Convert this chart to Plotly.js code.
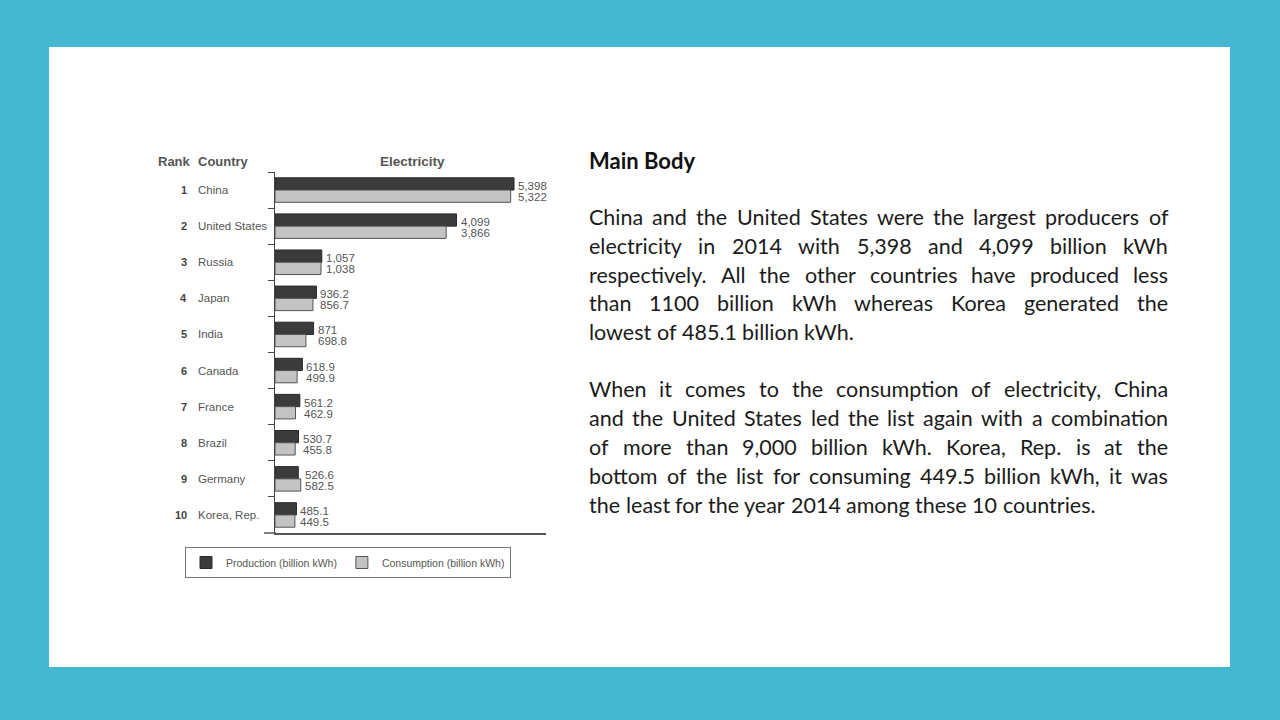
<!DOCTYPE html>
<html>
<head>
<meta charset="utf-8">
<script src="https://cdn.plot.ly/plotly-3.0.1.min.js"></script>
<style>
  html, body { margin: 0; padding: 0; background: #45b8d1; }
  #chart { width: 1280px; height: 720px; }
</style>
</head>
<body>
<div id="chart"></div>
<script>
// ---- data ----
var ranks = [1, 2, 3, 4, 5, 6, 7, 8, 9, 10];
var countries = ['China', 'United States', 'Russia', 'Japan', 'India',
                 'Canada', 'France', 'Brazil', 'Germany', 'Korea, Rep.'];
var production = [5398, 4099, 1057, 936.2, 871, 618.9, 561.2, 530.7, 526.6, 485.1];
var consumption = [5322, 3866, 1038, 856.7, 698.8, 499.9, 462.9, 455.8, 582.5, 449.5];
var prodLabels = ['5,398', '4,099', '1,057', '936.2', '871', '618.9', '561.2', '530.7', '526.6', '485.1'];
var consLabels = ['5,322', '3,866', '1,038', '856.7', '698.8', '499.9', '462.9', '455.8', '582.5', '449.5'];

var heading = 'Main Body';
var para1 = [
  'China and the United States were the largest producers of',
  'electricity in 2014 with 5,398 and 4,099 billion kWh',
  'respectively. All the other countries have produced less',
  'than 1100 billion kWh whereas Korea generated the',
  'lowest of 485.1 billion kWh.'
];
var para2 = [
  'When it comes to the consumption of electricity, China',
  'and the United States led the list again with a combination',
  'of more than 9,000 billion kWh. Korea, Rep. is at the',
  'bottom of the list for consuming 449.5 billion kWh, it was',
  'the least for the year 2014 among these 10 countries.'
];

var W = 1280, H = 720;
function px(x) { return x / W; }
function py(y) { return 1 - y / H; }

var chartFont = 'Liberation Sans, Arial, sans-serif';
var textFont = 'Lato, Open Sans, sans-serif';
var labelGrey = '#555';

var prodTrace = {
  type: 'bar', orientation: 'h',
  name: 'Production (billion kWh)',
  x: production, y: countries,
  marker: { color: '#3b3b3b', line: { color: '#2a2a2a', width: 1 } },
  hoverinfo: 'skip'
};
var consTrace = {
  type: 'bar', orientation: 'h',
  name: 'Consumption (billion kWh)',
  x: consumption, y: countries,
  marker: { color: '#c3c3c3', line: { color: '#555', width: 1 } },
  hoverinfo: 'skip'
};

var annotations = [];

// column headers
annotations.push({ xref: 'paper', yref: 'paper', x: px(156), y: py(161), xanchor: 'left', yanchor: 'middle',
  text: '<b>Rank</b>', showarrow: false, font: { family: chartFont, size: 13, color: labelGrey } });
annotations.push({ xref: 'paper', yref: 'paper', x: px(196), y: py(161), xanchor: 'left', yanchor: 'middle',
  text: '<b>Country</b>', showarrow: false, font: { family: chartFont, size: 13, color: labelGrey } });
annotations.push({ xref: 'paper', yref: 'paper', x: px(412), y: py(162), xanchor: 'center', yanchor: 'middle',
  text: '<b>Electricity</b>', showarrow: false, font: { family: chartFont, size: 13.5, color: labelGrey } });

// rank + country labels, value labels right of each bar pair
countries.forEach(function (c, i) {
  annotations.push({ xref: 'paper', yref: 'y', x: px(189), y: c, xanchor: 'right', yanchor: 'middle',
    text: '<b>' + ranks[i] + '</b>', showarrow: false, font: { family: chartFont, size: 11, color: '#444' } });
  annotations.push({ xref: 'paper', yref: 'y', x: px(196), y: c, xanchor: 'left', yanchor: 'middle',
    text: c, showarrow: false, font: { family: chartFont, size: 11.5, color: labelGrey } });
  var end = Math.max(production[i], consumption[i]);
  annotations.push({ xref: 'x', yref: 'y', x: end, y: c, xanchor: 'left', yanchor: 'middle',
    xshift: 2, yshift: 4, text: prodLabels[i], showarrow: false,
    font: { family: chartFont, size: 11.5, color: labelGrey } });
  annotations.push({ xref: 'x', yref: 'y', x: end, y: c, xanchor: 'left', yanchor: 'middle',
    xshift: 2, yshift: -7, text: consLabels[i], showarrow: false,
    font: { family: chartFont, size: 11.5, color: labelGrey } });
});

// justified body text on the right
var textSize = 21.5;
var left = 588, right = 1167;
var ctx = document.createElement('canvas').getContext('2d');
ctx.font = textSize + 'px Lato';
var spaceW = ctx.measureText(' ').width;

function addLine(line, yc, justify) {
  var words = line.split(' ');
  var widths = words.map(function (w) { return ctx.measureText(w).width; });
  var total = widths.reduce(function (a, b) { return a + b; }, 0);
  var gap = justify && words.length > 1 ? (right - left - total) / (words.length - 1) : spaceW;
  gap = Math.max(gap, spaceW * 0.8);
  var x = left;
  words.forEach(function (w, k) {
    annotations.push({ xref: 'paper', yref: 'paper', x: px(x), y: py(yc), xanchor: 'left', yanchor: 'middle',
      text: w, showarrow: false, borderpad: 0,
      font: { family: textFont, size: textSize, color: '#1b1b1b' } });
    x += widths[k] + gap;
  });
}
annotations.push({ xref: 'paper', yref: 'paper', x: px(left), y: py(160), xanchor: 'left', yanchor: 'middle',
  text: '<b>' + heading + '</b>', showarrow: false, borderpad: 0,
  font: { family: textFont, size: 22, color: '#111' } });
para1.forEach(function (l, i) { addLine(l, 217 + i * 28.8, i < para1.length - 1); });
para2.forEach(function (l, i) { addLine(l, 389 + i * 29, i < para2.length - 1); });

var layout = {
  width: W, height: H,
  margin: { l: 0, r: 0, t: 0, b: 0 },
  paper_bgcolor: '#45b8d1',
  plot_bgcolor: 'rgba(0,0,0,0)',
  barmode: 'group', bargap: 0.32, bargroupgap: 0,
  font: { family: chartFont, color: labelGrey },
  xaxis: {
    domain: [px(275), px(546)], range: [0, 6120],
    showgrid: false, zeroline: false, showticklabels: false,
    showline: true, linecolor: '#555', linewidth: 1.5, fixedrange: true
  },
  yaxis: {
    domain: [py(533), py(172)], type: 'category', autorange: 'reversed',
    showgrid: false, showticklabels: false,
    ticks: 'outside', tickson: 'boundaries', ticklen: 6, tickcolor: '#444', tickwidth: 1,
    showline: true, linecolor: '#444', linewidth: 1.5, fixedrange: true
  },
  showlegend: true,
  legend: {
    orientation: 'h', x: px(185), y: py(547), xanchor: 'left', yanchor: 'top',
    bgcolor: '#fff', bordercolor: '#777', borderwidth: 1,
    font: { family: chartFont, size: 10.5, color: labelGrey },
    traceorder: 'normal', itemclick: false, itemdoubleclick: false,
    itemwidth: 30, tracegroupgap: 0
  },
  shapes: [
    { type: 'rect', xref: 'paper', yref: 'paper', layer: 'below',
      x0: px(49), x1: px(1230), y0: py(667), y1: py(47),
      fillcolor: '#ffffff', line: { width: 0 } },
    { type: 'line', xref: 'paper', yref: 'paper',
      x0: px(264), x1: px(276), y0: py(533), y1: py(533),
      line: { color: '#555', width: 1.5 } }
  ],
  annotations: annotations
};

Plotly.newPlot('chart', [prodTrace, consTrace], layout, { displayModeBar: false, staticPlot: true });
</script>
</body>
</html>
